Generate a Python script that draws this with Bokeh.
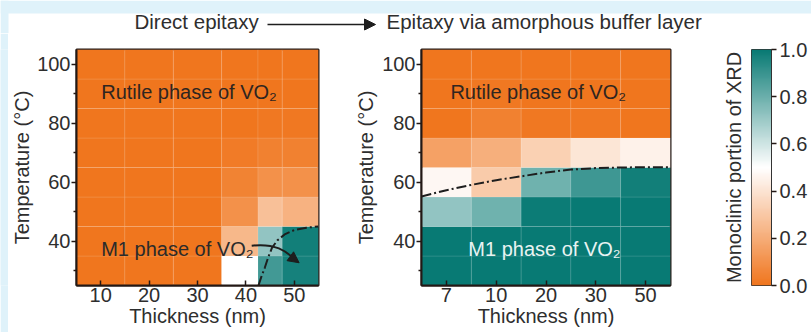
import numpy as np
from bokeh.plotting import figure
from bokeh.layouts import column, row
from bokeh.models import (Range1d, FactorRange, FixedTicker, Label, Arrow, NormalHead,
                          LinearColorMapper, ColumnDataSource, PrintfTickFormatter, LinearAxis)
from bokeh.transform import linear_cmap
from bokeh.embed import file_html
from bokeh.resources import INLINE

# ---------------- data ----------------
temps = [30, 40, 50, 60, 70, 80, 90, 100]
thick_direct = [10, 20, 30, 40, 45, 50]
# rows follow temps, columns follow thick_direct (monoclinic portion, 0..1)
mono_direct = [
    [0.00, 0.00, 0.00, 0.50, 0.88, 0.97],
    [0.00, 0.00, 0.00, 0.24, 0.72, 0.98],
    [0.00, 0.00, 0.00, 0.10, 0.27, 0.22],
    [0.00, 0.00, 0.00, 0.05, 0.10, 0.10],
    [0.00, 0.00, 0.00, 0.02, 0.04, 0.04],
    [0.00, 0.00, 0.00, 0.00, 0.01, 0.01],
    [0.00, 0.00, 0.00, 0.00, 0.00, 0.00],
    [0.00, 0.00, 0.00, 0.00, 0.00, 0.00],
]
thick_buffer = ["7", "10", "20", "30", "50"]
mono_buffer = [
    [1.00, 1.00, 1.00, 1.00, 1.00],
    [1.00, 1.00, 1.00, 1.00, 1.00],
    [0.72, 0.79, 0.99, 1.00, 1.00],
    [0.47, 0.31, 0.79, 0.89, 0.98],
    [0.16, 0.21, 0.33, 0.41, 0.45],
    [0.00, 0.04, 0.01, 0.01, 0.00],
    [0.00, 0.01, 0.00, 0.00, 0.00],
    [0.00, 0.00, 0.00, 0.00, 0.00],
]
# phase boundaries (dash-dot curves)
bound_direct_x = [42.6, 43.2, 43.9, 44.6, 45.4, 46.5, 48.0, 50.0, 52.5, 55.0]
bound_direct_y = [25.0, 28.0, 31.0, 34.5, 37.8, 40.3, 42.3, 43.8, 44.6, 45.0]
bound_buffer_x = [0.0, 0.5, 1.0, 1.5, 2.0, 2.5, 3.0, 3.5, 4.0, 4.5, 5.0]  # factor-axis coordinate
bound_buffer_y = [55.2, 57.3, 59.1, 60.7, 62.0, 63.3, 64.3, 64.8, 65.0, 65.1, 65.1]
temp_ticks = [40, 60, 80, 100]
temp_minor = [30, 50, 70, 90]
thick_ticks = [10, 20, 30, 40, 50]
cbar_ticks = [0.0, 0.2, 0.4, 0.6, 0.8, 1.0]

# ---------------- style ----------------
FONT = "Liberation Sans"
TXT = "#2e2e2e"
FRAME = "#231815"
BG = "#dff2fa"
ORANGE = (240, 118, 30)
WHITE = (255, 255, 255)
TEAL = (8, 122, 116)


def mix(a, b, t):
    return "#%02x%02x%02x" % tuple(int(round(a[i] + (b[i] - a[i]) * t)) for i in range(3))


palette = [mix(ORANGE, WHITE, i / 127) for i in range(128)] + \
          [mix(WHITE, TEAL, i / 127) for i in range(128)]
mapper = LinearColorMapper(palette=palette, low=0, high=1)

YR = (25, 105)
XR_DIRECT = (5, 55)
ROW_H = 299


def style(p, ylabel_standoff):
    p.grid.visible = False
    p.outline_line_color = FRAME
    p.outline_line_width = 2
    p.background_fill_color = "white"
    p.border_fill_color = "white"
    for ax in p.xaxis:
        ax.major_tick_in = 5
        ax.major_tick_out = 0
        ax.minor_tick_line_color = None
        ax.axis_line_color = FRAME
        ax.axis_line_width = 2
        ax.major_tick_line_color = FRAME
        ax.major_tick_line_width = 1.5
        ax.major_label_text_font = FONT
        ax.major_label_text_font_size = "20px"
        ax.major_label_text_color = TXT
        ax.major_label_standoff = 2
        ax.axis_label = "Thickness (nm)"
        ax.axis_label_standoff = 0
        ax.axis_label_text_font = FONT
        ax.axis_label_text_font_size = "20px"
        ax.axis_label_text_font_style = "normal"
        ax.axis_label_text_color = TXT
    for ax in p.yaxis:
        ax.ticker = FixedTicker(ticks=temp_ticks, minor_ticks=temp_minor)
        ax.major_tick_in = 0
        ax.major_tick_out = 5
        ax.minor_tick_in = 0
        ax.minor_tick_out = 3
        ax.axis_line_color = FRAME
        ax.axis_line_width = 2
        ax.major_tick_line_color = FRAME
        ax.major_tick_line_width = 1.5
        ax.minor_tick_line_color = FRAME
        ax.minor_tick_line_width = 1.5
        ax.major_label_text_font = FONT
        ax.major_label_text_font_size = "20px"
        ax.major_label_text_color = TXT
        ax.major_label_standoff = 1
        ax.axis_label = "Temperature (\u00b0C)"
        ax.axis_label_standoff = ylabel_standoff
        ax.axis_label_text_font = FONT
        ax.axis_label_text_font_size = "20px"
        ax.axis_label_text_font_style = "normal"
        ax.axis_label_text_color = TXT


def lab(p, x, y, text, color=TXT, size="20px", **kw):
    # y is the bottom of the text box
    p.add_layout(Label(x=x, y=y, text=text, text_font=FONT, text_font_size=size,
                       text_color=color, text_baseline="bottom", **kw))


def blank(w, h, xr, yr, fill):
    f = figure(width=w, height=h, x_range=Range1d(*xr), y_range=Range1d(*yr),
               output_backend="svg", toolbar_location=None, min_border=0,
               x_axis_location=None, y_axis_location=None)
    f.grid.visible = False
    f.outline_line_color = None
    f.border_fill_color = fill
    f.background_fill_color = fill
    return f


# ---------------- top banner (page pixels, y measured upward) ----------------
top = blank(811, 33, (0, 811), (0, 33), "white")
top.quad(left=[0, 0], right=[811, 8], bottom=[20, 0], top=[33, 33],
         fill_color=BG, line_color=None)
lab(top, 134, 1, "Direct epitaxy", size="20.5px")
lab(top, 386, 1, "Epitaxy via amorphous buffer layer", size="20.5px")
top.add_layout(Arrow(end=NormalHead(size=11, fill_color="#1e1e1e", line_color="#1e1e1e"),
                     x_start=267, y_start=9, x_end=375, y_end=9,
                     line_color="#1e1e1e", line_width=1.5))

spacer = blank(8, ROW_H, (0, 1), (0, 1), BG)

# ---------------- left: direct epitaxy ----------------
pl = figure(width=332, height=ROW_H, x_range=Range1d(*XR_DIRECT), y_range=Range1d(*YR),
            output_backend="svg", toolbar_location=None,
            min_border_left=64, min_border_right=22, min_border_top=15, min_border_bottom=47)
mids = [(a + b) / 2 for a, b in zip(thick_direct[:-1], thick_direct[1:])]
lefts = [XR_DIRECT[0]] + mids
rights = mids + [XR_DIRECT[1]]
src_l = dict(left=[], right=[], bottom=[], top=[], v=[])
for i, t in enumerate(temps):
    for j in range(len(thick_direct)):
        src_l["left"].append(lefts[j])
        src_l["right"].append(rights[j])
        src_l["bottom"].append(t - 5)
        src_l["top"].append(t + 5)
        src_l["v"].append(mono_direct[i][j])
pl.quad(left="left", right="right", bottom="bottom", top="top", source=ColumnDataSource(src_l),
        fill_color=linear_cmap("v", palette, 0, 1), line_color="white", line_alpha=0.1, line_width=1)
pl.line(bound_direct_x, bound_direct_y, line_color="#1e1e1e", line_width=2, line_dash="10 3 2 3")
pl.bezier(x0=[41.2], y0=[38.5], x1=[50.4], y1=[33.4], cx0=[46.0], cy0=[39.4], cx1=[48.3], cy1=[36.8],
          line_color="#1e1e1e", line_width=2)
pl.add_layout(Arrow(end=NormalHead(size=11, fill_color="#1e1e1e", line_color="#1e1e1e"),
                    x_start=49.6, y_start=34.4, x_end=51.0, y_end=32.7,
                    line_color="#1e1e1e", line_width=2))
pl.xaxis.ticker = FixedTicker(ticks=thick_ticks)
style(pl, 1)
lab(pl, 10.1, 86.7, "Rutile phase of VO\u2082", color="#2f2520")
lab(pl, 10.1, 33.7, "M1 phase of VO\u2082", color="#2b2b2b")

# ---------------- right: amorphous buffer ----------------
pr = figure(width=350, height=ROW_H, x_range=FactorRange(factors=thick_buffer, range_padding=0),
            y_range=Range1d(*YR), output_backend="svg", toolbar_location=None,
            min_border_left=81, min_border_right=20, min_border_top=15, min_border_bottom=47)
src_r = dict(x=[], y=[], v=[])
for i, t in enumerate(temps):
    for j, c in enumerate(thick_buffer):
        src_r["x"].append(c)
        src_r["y"].append(t)
        src_r["v"].append(mono_buffer[i][j])
pr.rect(x="x", y="y", width=1, height=10, source=ColumnDataSource(src_r),
        fill_color=linear_cmap("v", palette, 0, 1), line_color="white", line_alpha=0.1, line_width=1)
pr.line(bound_buffer_x, bound_buffer_y, line_color="#1e1e1e", line_width=2, line_dash="10 3 2 3")
style(pr, 2)
lab(pr, 0.58, 86.7, "Rutile phase of VO\u2082", color="#2f2520")
lab(pr, 0.94, 33.7, "M1 phase of VO\u2082", color="#e8f3f2")

# ---------------- colour bar ----------------
pc = figure(width=121, height=ROW_H, x_range=Range1d(0, 1), y_range=Range1d(0, 1),
            output_backend="svg", toolbar_location=None, x_axis_location=None,
            y_axis_location="right",
            min_border_left=61, min_border_right=40, min_border_top=16, min_border_bottom=47)
pc.grid.visible = False
pc.border_fill_color = "white"
pc.outline_line_color = "#333333"
pc.outline_line_width = 1
pc.image(image=[np.linspace(0, 1, 256).reshape(256, 1)], x=0, y=0, dw=1, dh=1, color_mapper=mapper)
ax = pc.yaxis[0]
ax.ticker = FixedTicker(ticks=cbar_ticks)
ax.formatter = PrintfTickFormatter(format="%.1f")
ax.minor_tick_line_color = None
ax.major_tick_in = 0
ax.major_tick_out = 5
ax.major_tick_line_color = FRAME
ax.major_tick_line_width = 1.5
ax.axis_line_color = "#333333"
ax.major_label_standoff = 3
ax.major_label_text_font = FONT
ax.major_label_text_font_size = "20px"
ax.major_label_text_color = TXT
title_axis = LinearAxis(ticker=FixedTicker(ticks=[]), axis_line_color=None,
                        major_tick_line_color=None, minor_tick_line_color=None,
                        major_label_standoff=0, axis_label="Monoclinic portion of XRD",
                        axis_label_standoff=7, axis_label_text_font=FONT,
                        axis_label_text_font_size="20px", axis_label_text_font_style="normal",
                        axis_label_text_color=TXT)
pc.add_layout(title_axis, "left")

layout = column(top, row(spacer, pl, pr, pc))
open("out.html", "w").write(file_html(layout, INLINE))
